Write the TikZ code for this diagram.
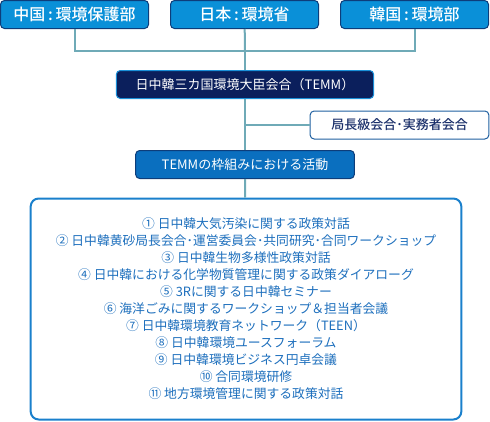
\documentclass[tikz,border=0pt]{standalone}
\usepackage{fontspec}
\setmainfont{Noto Sans CJK JP}[BoldFont={Noto Sans CJK JP Medium}]
\definecolor{govblue}{HTML}{0A90D8}
\definecolor{govedge}{HTML}{0D3D7A}
\definecolor{temmnavy}{HTML}{0B1F5C}
\definecolor{temmedge}{HTML}{1A8FD8}
\definecolor{actblue}{HTML}{0A6FBF}
\definecolor{dgedge}{HTML}{2060A0}
\definecolor{dgtext}{HTML}{1A2F6A}
\definecolor{linkgray}{HTML}{6FAAB7}
\definecolor{listblue}{HTML}{1A80CC}
\definecolor{listtext}{HTML}{1D6FBD}
\begin{document}
\begin{tikzpicture}[x=0.75pt,y=-0.75pt,
    box/.style={draw, line width=0.75pt, rounded corners=3pt, inner sep=0pt,
      minimum height=21pt},
    gov/.style={box, draw=govedge, fill=govblue, text=white, minimum width=111pt,
      font=\fontsize{12pt}{14pt}\selectfont\bfseries},
    temm/.style={box, draw=temmedge, fill=temmnavy, text=white, minimum width=193pt,
      font=\fontsize{9.75pt}{12pt}\selectfont},
    act/.style={box, draw=govedge, fill=actblue, text=white, minimum width=164pt,
      font=\fontsize{9.75pt}{12pt}\selectfont},
    dg/.style={box, draw=dgedge, fill=white, text=dgtext, minimum width=134pt,
      font=\fontsize{9.75pt}{12pt}\selectfont\bfseries},
    list/.style={draw=listblue, line width=1.5pt, rounded corners=6pt, fill=white,
      text=listtext, minimum width=323pt, minimum height=165.75pt, inner sep=0pt,
      align=center, font=\fontsize{9.6pt}{12.75pt}\selectfont},
    link/.style={draw=linkgray, line width=1.5pt}]
  \useasboundingbox (0,0) rectangle (490,422);
  \draw
    (74.5,14.5) node[gov] (cn) {中国\,:\,環境保護部}
    (244.5,14.5) node[gov] (jp) {日本\,:\,環境省}
    (414.5,14.5) node[gov] (kr) {韓国\,:\,環境部}
    (245,84.5) node[temm] (temm) {日中韓三カ国環境大臣会合（TEMM）}
    (399.5,125) node[dg] (dg) {局長級会合･実務者会合}
    (245,164.5) node[act] (acts) {TEMMの枠組みにおける活動}
    (246,309) node[list] (list) {%
      ① 日中韓大気汚染に関する政策対話\\
      ② 日中韓黄砂局長会合･運営委員会･共同研究･合同ワークショップ\\
      ③ 日中韓生物多様性政策対話\\
      ④ 日中韓における化学物質管理に関する政策ダイアローグ\\
      ⑤ 3Rに関する日中韓セミナー\\
      ⑥ 海洋ごみに関するワークショップ＆担当者会議\\
      ⑦ 日中韓環境教育ネットワーク（TEEN）\\
      ⑧ 日中韓環境ユースフォーラム\\
      ⑨ 日中韓環境ビジネス円卓会議\\
      ⑩ 合同環境研修\\
      ⑪ 地方環境管理に関する政策対話};
  \coordinate (bus) at (245,51);
  \coordinate (branch) at (245,125);
  \begin{scope}[link]
    \draw (cn) |- (bus) -| (kr);
    \draw (jp) to (bus);
    \draw (bus) to (temm);
    \draw (temm) to (acts);
    \draw (branch) to (dg);
    \draw (acts) to (list);
  \end{scope}
\end{tikzpicture}
\end{document}
